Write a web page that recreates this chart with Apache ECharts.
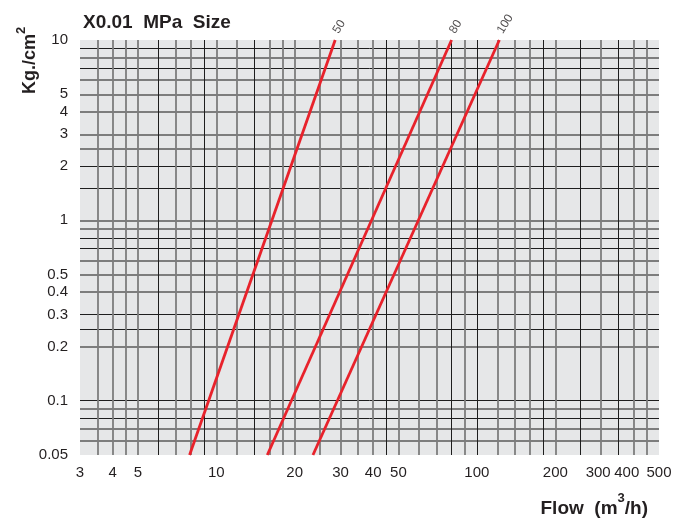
<!DOCTYPE html>
<html>
<head>
<meta charset="utf-8">
<script src="https://cdn.jsdelivr.net/npm/echarts@6/dist/echarts.min.js"></script>
<style>
html,body{margin:0;padding:0;background:#fff;}
#chart{width:675px;height:519px;}
</style>
</head>
<body>
<div id="chart"></div>
<script>
// ---- data ----
const xLabels = [3, 4, 5, 10, 20, 30, 40, 50, 100, 200, 300, 400, 500];
const yLabels = [0.05, 0.1, 0.2, 0.3, 0.4, 0.5, 1, 2, 3, 4, 5, 10];
const xGridDark = [6, 9, 14, 45, 80, 100, 180, 250, 350];
const xGridGray = [3.5, 4, 4.5, 5, 7, 8, 10, 12, 16, 18, 20, 25, 30, 35, 40, 50, 60, 70, 90, 120, 140, 160, 200, 300, 400, 450];
const yGridDark = [9, 7, 2, 1.5, 0.8, 0.7, 0.3, 0.25, 0.1, 0.08];
const yGridGray = [8, 6, 5, 4, 3, 2.5, 1, 0.9, 0.6, 0.5, 0.4, 0.2, 0.09, 0.07, 0.06];
const sizeNames = ['50', '80', '100'];
const size50 = [[7.9, 0.05], [28.6, 10]];
const size80 = [[15.7, 0.05], [80, 10]];
const size100 = [[23.5, 0.05], [122, 10]];
const sizeLines = [size50, size80, size100];

const FONT = '"Liberation Sans", Arial, Helvetica, sans-serif';
const TXT = '#231f20';
const fmt = v => String(+(+v).toPrecision(6));

const chart = echarts.init(document.getElementById('chart'), null, {renderer: 'canvas'});

function xAx(ticks, color, width, labels) {
  return {
    type: 'log', logBase: 10, min: 3, max: 500, position: 'bottom',
    axisLine: {show: false},
    axisTick: {show: false, customValues: ticks},
    minorTick: {show: false},
    axisLabel: labels ? {
      show: true, customValues: labels, margin: 10,
      formatter: v => {
        const s = fmt(v);
        if (s === '400') return '{l|' + s + '}';
        if (s === '300') return '{k|' + s + '}';
        return '{n|' + s + '}';
      },
      rich: {
        n: {fontFamily: FONT, fontSize: 15, color: TXT},
        k: {fontFamily: FONT, fontSize: 15, color: TXT, padding: [0, 6, 0, 0]},
        l: {fontFamily: FONT, fontSize: 15, color: TXT, padding: [0, 14, 0, 0]}
      }
    } : {show: false},
    splitLine: {show: true, lineStyle: {color: color, width: width, type: 'solid'}}
  };
}
function yAx(ticks, color, width, labels) {
  return {
    type: 'log', logBase: 10, min: 0.05, max: 10, position: 'left',
    axisLine: {show: false},
    axisTick: {show: false, customValues: ticks},
    minorTick: {show: false},
    axisLabel: labels ? {show: true, customValues: labels, formatter: fmt, margin: 12,
      fontFamily: FONT, fontSize: 15, color: TXT} : {show: false},
    splitLine: {show: true, lineStyle: {color: color, width: width, type: 'solid'}}
  };
}

const series = sizeLines.map((d, i) => ({
  type: 'line', name: sizeNames[i], data: d, xAxisIndex: 0, yAxisIndex: 0,
  symbol: 'none', z: 5, silent: true,
  lineStyle: {color: '#e8222b', width: 2.8},
  animation: false
}));
series.push({
  type: 'scatter', name: 'labels', xAxisIndex: 0, yAxisIndex: 0, z: 6,
  data: sizeLines.map((d, i) => ({value: d[d.length - 1], name: sizeNames[i]})),
  symbolSize: 1, itemStyle: {color: 'rgba(0,0,0,0)'},
  label: {show: true, formatter: p => p.name, position: [1, -7], rotate: 58,
    align: 'left', verticalAlign: 'middle', fontFamily: FONT, fontSize: 12, color: TXT},
  clip: false, silent: true, animation: false
});

chart.setOption({
  animation: false,
  backgroundColor: '#ffffff',
  title: {
    text: 'X0.01  MPa  Size', left: 83, top: 13, padding: 0,
    textStyle: {fontFamily: FONT, fontWeight: 'bold', fontSize: 19, color: TXT}
  },
  grid: {left: 80, right: 16, top: 40, bottom: 64, show: true,
    backgroundColor: '#e6e7e8', borderWidth: 0, containLabel: false},
  xAxis: [xAx(xGridGray, '#7d7d7d', 1.8, null), xAx(xGridDark, '#1e1e1e', 1, xLabels)],
  yAxis: [yAx(yGridGray, '#7d7d7d', 1.8, null), yAx(yGridDark, '#1e1e1e', 1, yLabels)],
  graphic: [
    {
      type: 'text', x: 27, y: 94, rotation: Math.PI / 2,
      style: {
        text: '{m|Kg./cm}{s|2}', textAlign: 'left', textVerticalAlign: 'middle',
        rich: {
          m: {fontFamily: FONT, fontWeight: 'bold', fontSize: 18, fill: TXT, lineHeight: 24, verticalAlign: 'bottom'},
          s: {fontFamily: FONT, fontWeight: 'bold', fontSize: 13, fill: TXT, lineHeight: 24, verticalAlign: 'top'}
        }
      }
    },
    {
      type: 'text', x: 648, y: 505,
      style: {
        text: '{m|Flow  (m}{s|3}{m|/h)}', textAlign: 'right', textVerticalAlign: 'middle',
        rich: {
          m: {fontFamily: FONT, fontWeight: 'bold', fontSize: 19, fill: TXT, lineHeight: 26, verticalAlign: 'bottom'},
          s: {fontFamily: FONT, fontWeight: 'bold', fontSize: 13, fill: TXT, lineHeight: 26, verticalAlign: 'top'}
        }
      }
    }
  ],
  series: series
});
</script>
</body>
</html>
